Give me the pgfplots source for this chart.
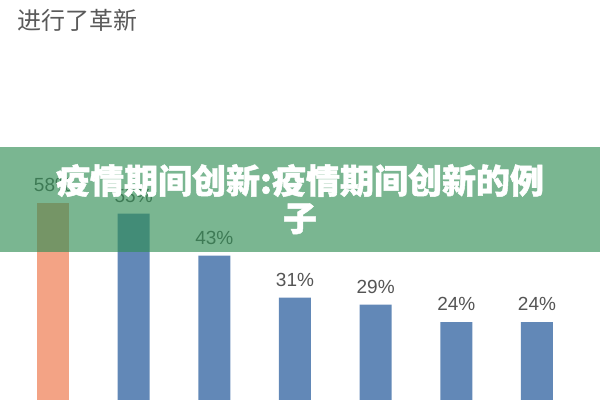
\documentclass[border=0pt]{standalone}
\usepackage{pgfplots}
\pgfplotsset{compat=1.18}
\usepackage{fontspec}
\setmainfont{Liberation Sans}
\newfontfamily\cjk{Noto Sans CJK SC}
\newfontfamily\cjkheavy{Noto Sans CJK SC}[BoldFeatures={FakeBold=1.3}]

\definecolor{barorange}{RGB}{243,163,133}
\definecolor{barblue}{RGB}{98,136,183}
\definecolor{banner}{RGB}{50,143,86}
\definecolor{labelgray}{RGB}{85,85,85}
\definecolor{titlegray}{RGB}{90,90,90}

\begin{document}
\begin{tikzpicture}[x=0.75pt,y=-0.75pt]
\useasboundingbox (0,0) rectangle (600,400);
\clip (0,0) rectangle (600,400);

\begin{axis}[
    at={(0pt,-304.5pt)}, anchor=south west,
    scale only axis,
    width=450pt, height=262.5pt,
    xmin=-0.657, xmax=6.781,
    ymin=0, ymax=100,
    hide axis,
    clip=false,
    ybar, bar width=24pt, bar shift=0pt,
    nodes near coords={\pgfmathprintnumber[assume math mode=true]{\pgfplotspointmeta}\%},
    every node near coord/.append style={
        font=\fontsize{14.25}{17}\selectfont,
        text=labelgray, anchor=south, inner sep=0pt, yshift=8pt},
]
\addplot[fill=barorange, draw=none] coordinates {(0,58)};
\addplot[fill=barblue, draw=none] coordinates {
    (1,55) (2,43) (3,31) (4,29) (5,24) (6,24)
};
\end{axis}

% title
\node[anchor=base west, inner sep=0pt, text=titlegray,
      font=\cjk\fontsize{18}{20}\selectfont] at (17,29.5) {进行了革新};

% banner
\fill[banner, fill opacity=0.65] (0,147) rectangle (600,252);
\node[anchor=base, inner sep=0pt, text=white,
      font=\cjkheavy\bfseries\fontsize{25.5}{29}\selectfont] at (300,193.5)
      {疫情期间创新:疫情期间创新的例};
\node[anchor=base, inner sep=0pt, text=white,
      font=\cjkheavy\bfseries\fontsize{25.5}{29}\selectfont] at (300,231) {子};
\end{tikzpicture}
\end{document}
